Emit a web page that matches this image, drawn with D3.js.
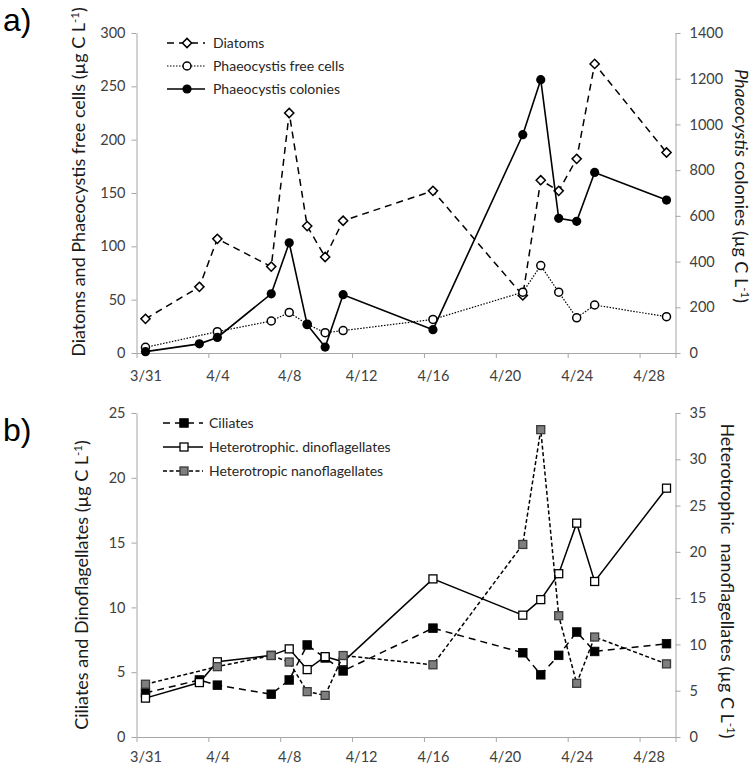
<!DOCTYPE html>
<html>
<head>
<meta charset="utf-8">
<script src="https://cdn.jsdelivr.net/npm/d3@7"></script>
<style>
  html, body { margin: 0; padding: 0; background: #fff; }
  svg { display: block; font-family: Lato, "Open Sans", sans-serif; }
</style>
</head>
<body>
<svg id="chart" width="755" height="770"></svg>
<script>
// ---------------- DATA ----------------
const dates = ["3/31","4/3","4/4","4/7","4/8","4/9","4/10","4/11","4/16","4/21","4/22","4/23","4/24","4/25","4/29"];

// Panel a)
const diatoms     = [32, 62, 107, 81, 225, 119, 90, 124, 152, 54, 162, 152, 182, 271, 188];
const freeCells   = [5.3, null, 20, 30, 38, 27, 19, 21, 31.5, 57, 82, 57, 33, 45, 34];
const colonies    = [6, 40, 68, 259, 482, 124, 26, 255, 102, 955, 1196, 589, 576, 790, 669];

// Panel b)
const ciliates    = [3.4, 4.4, 4.0, 3.3, 4.4, 7.1, 6.1, 5.1, 8.4, 6.5, 4.8, 6.3, 8.1, 6.6, 7.2];
const dinoflag    = [3.0, 4.2, 5.8, 6.3, 6.8, 5.2, 6.2, 5.8, 12.2, 9.4, 10.6, 12.6, 16.5, 12.0, 19.2];
const nanoflag    = [5.7, null, 7.6, 8.8, 8.1, 4.9, 4.5, 8.8, 7.8, 20.8, 33.2, 13.1, 5.8, 10.8, 7.9];

const xTickLabels = ["3/31","4/4","4/8","4/12","4/16","4/20","4/24","4/28"];
const yTicksA_L = [0, 50, 100, 150, 200, 250, 300];
const yTicksA_R = [0, 200, 400, 600, 800, 1000, 1200, 1400];
const yTicksB_L = [0, 5, 10, 15, 20, 25];
const yTicksB_R = [0, 5, 10, 15, 20, 25, 30, 35];

// ---------------- HELPERS ----------------
const YEAR = 2009;
function toDate(s) { const [m, d] = s.split("/").map(Number); return new Date(YEAR, m - 1, d); }
const HALF = 12 * 3600 * 1000;

const svg = d3.select("#chart");
svg.append("rect").attr("width", 755).attr("height", 770).attr("fill", "#fff");

const axisColor = "#a6a6a6";
const tickTextColor = "#404040";
const fmt = d3.format("d");

const x = d3.scaleTime()
  .domain([toDate("3/31"), toDate("4/30")])
  .range([136.5, 675.5]);
const halfDayPx = x(new Date(toDate("3/31").getTime() + HALF)) - x(toDate("3/31"));

function styleAxis(g) {
  g.select(".domain").attr("stroke", axisColor).attr("stroke-width", 1);
  g.selectAll(".tick line").attr("stroke", axisColor).attr("stroke-width", 1);
  g.selectAll(".tick text").attr("fill", tickTextColor).attr("font-size", 14.5)
    .attr("font-family", "Lato, 'Open Sans', sans-serif");
}

function drawPanel(cfg) {
  const yL = d3.scaleLinear().domain(cfg.leftDomain).range([cfg.y0, cfg.y1]);
  const yR = d3.scaleLinear().domain(cfg.rightDomain).range([cfg.y0, cfg.y1]);

  // x axis
  const gx = svg.append("g").attr("transform", `translate(0,${cfg.y0})`)
    .call(d3.axisBottom(x).tickValues(xTickLabels.map(toDate).concat([toDate("4/30")]))
      .tickSize(5).tickFormat((d, i) => i < xTickLabels.length ? xTickLabels[i] : "").tickSizeOuter(0));
  styleAxis(gx);
  gx.selectAll(".tick text").attr("x", halfDayPx).attr("dy", 0).attr("y", cfg.xLabelOffset);

  // left axis
  const gl = svg.append("g").attr("transform", `translate(${x.range()[0]},0)`)
    .call(d3.axisLeft(yL).tickValues(cfg.leftTicks).tickFormat(fmt).tickSize(5).tickPadding(6).tickSizeOuter(0));
  styleAxis(gl);

  // right axis
  const gr = svg.append("g").attr("transform", `translate(${x.range()[1]},0)`)
    .call(d3.axisRight(yR).tickValues(cfg.rightTicks).tickFormat(fmt).tickSize(5).tickPadding(9).tickSizeOuter(0));
  styleAxis(gr);

  // series
  cfg.series.forEach(s => {
    const y = s.axis === "R" ? yR : yL;
    const pts = dates.map((d, i) => ({ d: new Date(toDate(d).getTime() + HALF), v: s.values[i] }))
      .filter(p => p.v !== null && p.v !== undefined);
    const line = d3.line().x(p => x(p.d)).y(p => y(p.v));
    svg.append("path").datum(pts).attr("d", line)
      .attr("fill", "none").attr("stroke", "#000").attr("stroke-width", s.lw)
      .attr("stroke-dasharray", s.dash || null);
    const g = svg.append("g");
    pts.forEach(p => drawMarker(g, s.marker, x(p.d), y(p.v)));
  });

  // legend
  cfg.series.forEach((s, i) => {
    const ly = cfg.legend.y[i];
    svg.append("line").attr("x1", cfg.legend.x1).attr("x2", cfg.legend.x2)
      .attr("y1", ly).attr("y2", ly)
      .attr("stroke", "#000").attr("stroke-width", s.lw).attr("stroke-dasharray", s.dash || null);
    drawMarker(svg.append("g"), s.marker, cfg.legend.mx, ly);
    svg.append("text").attr("x", cfg.legend.tx).attr("y", ly).attr("dy", "0.35em")
      .attr("font-size", 14).attr("fill", "#262626").text(s.name);
  });
}

function drawMarker(g, type, cx, cy) {
  if (type === "diamond") {
    const r = 4.6;
    g.append("path").attr("d", `M${cx},${cy - r}L${cx + r},${cy}L${cx},${cy + r}L${cx - r},${cy}Z`)
      .attr("fill", "#fff").attr("stroke", "#000").attr("stroke-width", 1.5);
  } else if (type === "openCircle") {
    g.append("circle").attr("cx", cx).attr("cy", cy).attr("r", 4)
      .attr("fill", "#fff").attr("stroke", "#000").attr("stroke-width", 1.5);
  } else if (type === "filledCircle") {
    g.append("circle").attr("cx", cx).attr("cy", cy).attr("r", 4.6).attr("fill", "#000");
  } else if (type === "blackSquare") {
    g.append("rect").attr("x", cx - 4.3).attr("y", cy - 4.3).attr("width", 8.6).attr("height", 8.6)
      .attr("fill", "#000").attr("stroke", "#000").attr("stroke-width", 0.8);
  } else if (type === "whiteSquare") {
    g.append("rect").attr("x", cx - 4).attr("y", cy - 4).attr("width", 8).attr("height", 8)
      .attr("fill", "#fff").attr("stroke", "#000").attr("stroke-width", 1.3);
  } else if (type === "graySquare") {
    g.append("rect").attr("x", cx - 4).attr("y", cy - 4).attr("width", 8).attr("height", 8)
      .attr("fill", "#7f7f7f").attr("stroke", "#3a3a3a").attr("stroke-width", 1.3);
  }
}

// ---------------- PANEL A ----------------
drawPanel({
  y0: 353, y1: 33,
  leftDomain: [0, 300], rightDomain: [0, 1400],
  leftTicks: yTicksA_L, rightTicks: yTicksA_R,
  xLabelOffset: 28,
  series: [
    { name: "Diatoms", values: diatoms, axis: "L", marker: "diamond", lw: 1.5, dash: "7,5" },
    { name: "Phaeocystis free cells", values: freeCells, axis: "L", marker: "openCircle", lw: 1.2, dash: "1.5,1.5" },
    { name: "Phaeocystis colonies", values: colonies, axis: "R", marker: "filledCircle", lw: 1.6 }
  ],
  legend: { x1: 167, x2: 205, mx: 187, tx: 213, y: [43, 66, 89] }
});

// ---------------- PANEL B ----------------
drawPanel({
  y0: 737, y1: 413,
  leftDomain: [0, 25], rightDomain: [0, 35],
  leftTicks: yTicksB_L, rightTicks: yTicksB_R,
  xLabelOffset: 25,
  series: [
    { name: "Ciliates", values: ciliates, axis: "L", marker: "blackSquare", lw: 1.5, dash: "7,5" },
    { name: "Heterotrophic. dinoflagellates", values: dinoflag, axis: "L", marker: "whiteSquare", lw: 1.5 },
    { name: "Heterotropic nanoflagellates", values: nanoflag, axis: "R", marker: "graySquare", lw: 1.5, dash: "4,2.5" }
  ],
  legend: { x1: 163, x2: 203, mx: 184, tx: 209, y: [423, 447, 471] }
});

// ---------------- TITLES / LABELS ----------------
function axisTitle(cx, cy, rot, parts) {
  const t = svg.append("text")
    .attr("transform", `translate(${cx},${cy}) rotate(${rot})`)
    .attr("text-anchor", "middle").attr("dy", "0.35em")
    .attr("font-size", 18).attr("fill", "#1a1a1a")
    .style("white-space", "pre");
  parts.forEach(p => {
    const ts = t.append("tspan").text(p.t);
    if (p.italic) ts.attr("font-style", "italic");
    if (p.sup) ts.attr("baseline-shift", "super").attr("font-size", 11.5);
  });
  return t;
}

axisTitle(79, 182, -90, [
  { t: "Diatoms and Phaeocystis free cells (µg C L" }, { t: "-1", sup: true }, { t: ")" }
]);
axisTitle(741, 186, 90, [
  { t: "Phaeocystis", italic: true }, { t: " colonies (µg C L" }, { t: "-1", sup: true }, { t: ")" }
]);
axisTitle(82, 585, -90, [
  { t: "Ciliates and Dinoflagellates (µg C L" }, { t: "-1", sup: true }, { t: ")" }
]);
axisTitle(727, 581, 90, [
  { t: "Heterotrophic  nanoflagellates (µg C L" }, { t: "-1", sup: true }, { t: ")" }
]);

svg.append("text").attr("x", 3).attr("y", 31).attr("font-size", 32)
  .attr("font-family", "'Liberation Sans', Arial, sans-serif").attr("fill", "#000").text("a)");
svg.append("text").attr("x", 3).attr("y", 441).attr("font-size", 32)
  .attr("font-family", "'Liberation Sans', Arial, sans-serif").attr("fill", "#000").text("b)");
</script>
</body>
</html>
